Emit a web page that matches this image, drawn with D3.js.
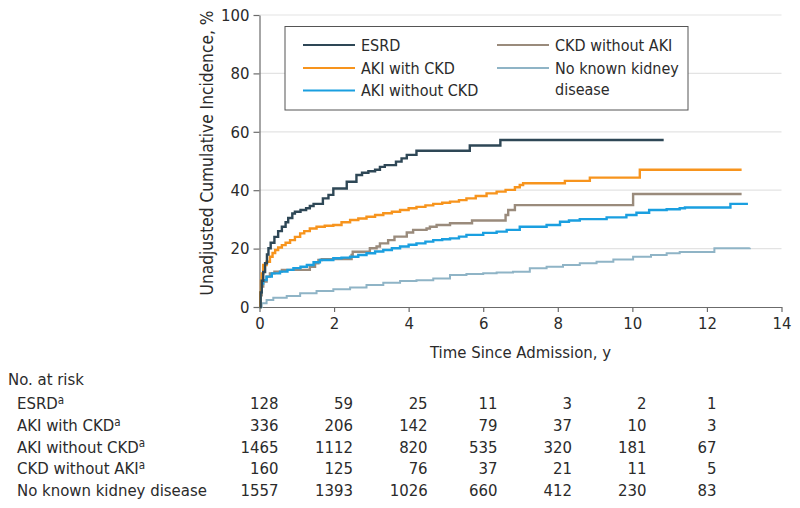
<!DOCTYPE html>
<html><head><meta charset="utf-8">
<script src="https://cdn.jsdelivr.net/npm/d3@7"></script>
<style>
body{margin:0;background:#fff;}
text{font-family:'DejaVu Sans Condensed','DejaVu Sans',sans-serif;font-stretch:condensed;fill:#2b2b2b;}
</style></head>
<body><svg id="c" width="800" height="508"></svg>
<script>
// ---- data ----
const seriesNames = ["ESRD","AKI with CKD","AKI without CKD","CKD without AKI","No known kidney disease"];
const seriesColors = ["#2e4756","#f7941d","#1a9fe0","#9a8b7c","#8fb4c6"];
const esrd = [[0,0],[0.03,5],[0.06,9],[0.1,12],[0.15,15],[0.2,18],[0.24,20.1],[0.3,22],[0.4,24],[0.5,26],[0.6,27.5],[0.7,29],[0.77,30.5],[0.88,32],[0.95,32.6],[1.1,33.2],[1.25,33.8],[1.35,34.6],[1.45,35.3],[1.7,37.2],[1.85,38.4],[1.98,40.6],[2.34,42.9],[2.6,45.2],[2.75,46.0],[2.92,46.5],[3.1,47],[3.23,48],[3.36,48.6],[3.66,49.8],[3.81,50.9],[3.95,52.1],[4.21,53.5],[5.64,55.3],[6.46,57.2],[10.84,57.2]];
const akiWithCkd = [[0,0],[0.02,5],[0.04,9],[0.06,11.5],[0.1,14.4],[0.19,15.5],[0.28,17.2],[0.35,18.5],[0.42,19.5],[0.5,20.4],[0.6,21.2],[0.7,22],[0.82,22.9],[0.95,24],[1.09,25.2],[1.2,26],[1.35,26.9],[1.53,27.5],[1.75,27.8],[1.98,28.1],[2.2,29],[2.43,29.8],[2.65,30.3],[2.87,30.9],[3.1,31.5],[3.32,32.1],[3.55,32.6],[3.77,33.2],[4.0,33.8],[4.21,34.3],[4.45,34.8],[4.66,35.3],[4.9,35.7],[5.11,36.1],[5.35,36.6],[5.55,37.2],[5.8,38],[6.09,38.9],[6.36,39.5],[6.6,40.1],[6.85,41.0],[6.98,41.8],[7.07,42.4],[8.19,43.2],[8.86,44.3],[10.2,47.0],[12.93,47.0]];
const akiWithoutCkd = [[0,0],[0.03,5],[0.06,8],[0.1,9.2],[0.19,10.4],[0.33,11.5],[0.55,12.1],[0.75,12.7],[0.91,13.3],[1.1,13.8],[1.27,14.4],[1.45,15.3],[1.62,16.1],[1.98,16.7],[2.2,16.9],[2.43,17.2],[2.65,17.8],[2.87,18.4],[3.1,19],[3.32,19.5],[3.55,20.1],[3.77,20.7],[4.0,21.3],[4.21,21.8],[4.45,22.4],[4.66,22.9],[4.9,23.2],[5.11,23.5],[5.35,24.1],[5.55,24.7],[6.0,25.4],[6.36,25.8],[6.63,26.4],[6.98,27.5],[7.7,28.1],[8.06,29.2],[8.3,29.6],[8.59,30.1],[9.31,30.7],[9.84,31.5],[10.11,32.3],[10.45,33.2],[10.92,33.5],[11.27,33.8],[11.41,34.1],[12.63,35.3],[13.1,35.3]];
const ckdWithoutAki = [[0,0],[0.03,4],[0.06,7],[0.1,8.7],[0.19,10.4],[0.28,11.5],[0.4,12.1],[0.6,12.7],[1.35,13.8],[1.49,15],[1.58,16.1],[1.67,16.4],[2.47,17.8],[2.5,18.9],[2.96,20.1],[3.14,20.7],[3.23,21.8],[3.45,22.9],[3.62,24.1],[3.95,25.5],[4.12,26.4],[4.48,26.9],[4.57,27.5],[4.75,28.1],[5.11,28.7],[5.7,29.6],[6.6,31.5],[6.67,33.2],[6.85,34.9],[10.02,38.7],[12.93,38.7]];
const noKidney = [[0,0],[0.06,1.3],[0.19,2.4],[0.37,3.2],[0.73,3.8],[1.09,4.7],[1.53,5.5],[1.98,6.1],[2.43,6.7],[2.87,7.5],[3.32,8.3],[3.77,8.9],[4.21,9.2],[4.66,9.8],[5.11,11.0],[5.55,11.3],[6.0,11.6],[6.36,11.8],[6.8,12.1],[7.25,13.3],[7.7,13.8],[8.14,14.4],[8.59,15],[9.04,15.5],[9.49,16.3],[10.02,17.2],[10.5,17.8],[10.92,18.4],[11.27,18.8],[12.2,20.1],[13.15,20.3]];
const seriesData = [esrd, akiWithCkd, akiWithoutCkd, ckdWithoutAki, noKidney];
const xTicks = [0,2,4,6,8,10,12,14];
const yTicks = [0,20,40,60,80,100];
const riskTimes = [0,2,4,6,8,10,12];
const riskLabels = ["ESRD","AKI with CKD","AKI without CKD","CKD without AKI","No known kidney disease"];
const riskSup = [true,true,true,true,false];
const riskValues = [
  [128,59,25,11,3,2,1],
  [336,206,142,79,37,10,3],
  [1465,1112,820,535,320,181,67],
  [160,125,76,37,21,11,5],
  [1557,1393,1026,660,412,230,83]
];

// ---- chart ----
const svg = d3.select("#c");
const x = d3.scaleLinear().domain([0,14]).range([259.5,781.5]);
const y = d3.scaleLinear().domain([0,100]).range([307,15]);
const FS = "16.6px";

// gridlines
svg.append("g").selectAll("line").data(yTicks.filter(d=>d>0)).join("line")
  .attr("x1",x(0)).attr("x2",x(14)).attr("y1",d=>y(d)).attr("y2",d=>y(d))
  .attr("stroke","#e3e3e3").attr("stroke-width",1.2);

// axes
const xa = svg.append("g").attr("transform",`translate(0,${y(0)})`)
  .call(d3.axisBottom(x).tickValues(xTicks).tickSize(5).tickPadding(5).tickSizeOuter(0));
const ya = svg.append("g").attr("transform",`translate(${x(0)},0)`)
  .call(d3.axisLeft(y).tickValues(yTicks).tickSize(6).tickPadding(4).tickSizeOuter(0));
[xa,ya].forEach(a=>{
  a.select(".domain").attr("stroke","#6b6b6b").attr("stroke-width",1.2);
  a.selectAll(".tick line").attr("stroke","#6b6b6b").attr("stroke-width",1.2);
  a.selectAll(".tick text").style("font-size",FS).attr("fill","#2b2b2b").style("font-family",null);
});

// axis titles
svg.append("text").attr("x",x(7)).attr("y",358).attr("text-anchor","middle")
  .style("font-size",FS).text("Time Since Admission, y");
svg.append("text").attr("transform",`translate(213,153) rotate(-90)`).attr("text-anchor","middle")
  .style("font-size","17.2px").text("Unadjusted Cumulative Incidence, %");

// curves
const line = d3.line().x(d=>x(d[0])).y(d=>y(d[1])).curve(d3.curveStepAfter);
const drawOrder = [4,3,2,1,0];
drawOrder.forEach(i=>{
  svg.append("path").datum(seriesData[i]).attr("d",line)
    .attr("fill","none").attr("stroke",seriesColors[i])
    .attr("stroke-width", i===4 ? 2 : 2.4).attr("stroke-linejoin","miter");
});

// legend
const lg = svg.append("g");
lg.append("rect").attr("x",285).attr("y",26.5).attr("width",403).attr("height",83.5)
  .attr("fill","#fff").attr("stroke","#555").attr("stroke-width",1);
const legPos = [[303,45],[303,68],[303,90.5],[497,45],[497,68]];
seriesNames.forEach((n,i)=>{
  const [lx,ly] = legPos[i];
  lg.append("line").attr("x1",lx).attr("x2",lx+52).attr("y1",ly).attr("y2",ly)
    .attr("stroke",seriesColors[i]).attr("stroke-width",2);
  const t = lg.append("text").attr("x",lx+58).attr("y",ly).attr("dy","0.35em").style("font-size","16px");
  if(i===4){
    t.text("No known kidney");
    lg.append("text").attr("x",lx+58).attr("y",ly+21.5).attr("dy","0.35em").style("font-size","16px").text("disease");
  } else t.text(n);
});

// risk table
const rt = svg.append("g");
rt.append("text").attr("x",8).attr("y",379).attr("dy","0.35em").style("font-size",FS).text("No. at risk");
const rowY = d3.scaleLinear().domain([0,4]).range([403.5,490]);
riskLabels.forEach((l,i)=>{
  const t = rt.append("text").attr("x",17).attr("y",rowY(i)).attr("dy","0.35em").style("font-size",FS);
  t.append("tspan").text(l);
  if(riskSup[i]) t.append("tspan").attr("dy","-0.45em").style("font-size","11.5px").text("a");
});
// columns: right-aligned, widest value centred on tick
riskTimes.forEach((tm,j)=>{
  const col = riskValues.map(r=>r[j]);
  const texts = col.map((v,i)=>rt.append("text").attr("y",rowY(i)).attr("dy","0.35em")
    .style("font-size",FS).attr("text-anchor","end").text(v));
  const maxW = d3.max(texts, t=>t.node().getComputedTextLength());
  texts.forEach(t=>t.attr("x", x(tm)+maxW/2));
});
</script></body></html>
